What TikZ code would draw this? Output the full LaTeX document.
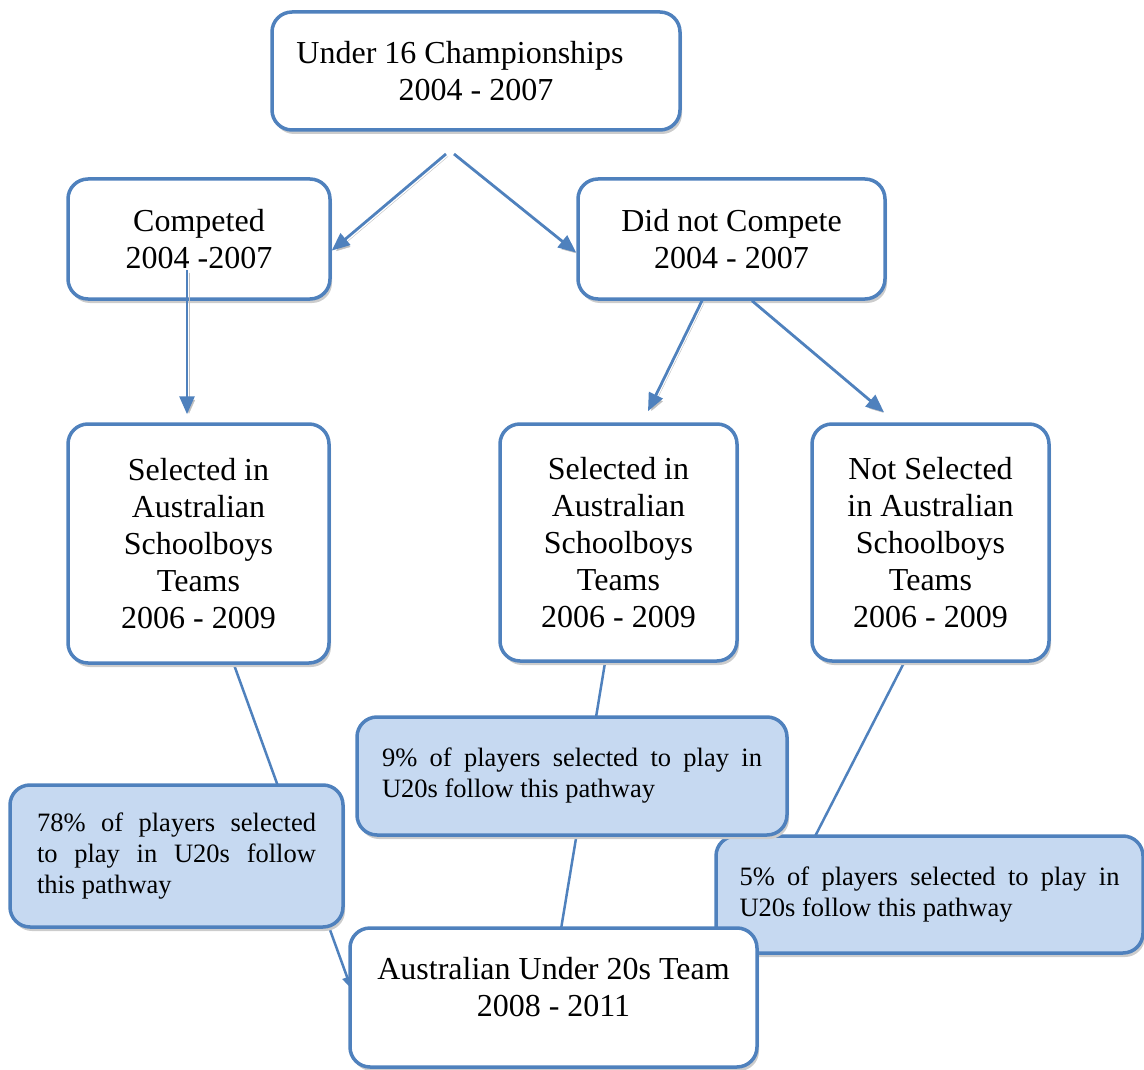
\documentclass[tikz,border=0pt]{standalone}
\usepackage{fontspec}
\setmainfont{Liberation Serif}
\usetikzlibrary{arrows.meta,shadows}
\definecolor{wordblue}{HTML}{4F81BD}
\definecolor{notefill}{HTML}{C6D9F1}
\pgfdeclarelayer{background}
\pgfsetlayers{background,main}

\begin{document}
\begin{tikzpicture}[x=1pt,y=-1pt,
    stagebox/.style={draw=wordblue, line width=3.5pt, rounded corners=20pt, fill=white,
      drop shadow={shadow xshift=2pt, shadow yshift=-4pt, fill=gray!40, opacity=1},
      align=center, inner sep=0pt, font=\fontsize{32}{37}\selectfont},
    notebox/.style={stagebox, fill=notefill, align=justify, font=\fontsize{26.5}{31}\selectfont},
    flowarrow/.style={draw=wordblue, line width=2.8pt, -{Triangle[length=18pt,width=15pt]},
      preaction={draw=gray!50, transform canvas={shift={(2pt,-2.5pt)}}}},
    pathline/.style={draw=wordblue, line width=2.5pt, -{Triangle[length=12pt,width=10pt]}}]

    \useasboundingbox (0,0) rectangle (1144,1070);

    % stages
    \node[stagebox, minimum width=408pt, minimum height=118pt] (champs) at (476,71)
      {\raisebox{-2pt}{Under 16 Championships\hspace*{32pt}}\\\raisebox{-2pt}{2004 - 2007}};
    \node[stagebox, minimum width=262pt, minimum height=120pt] (competed) at (199,239)
      {Competed\\2004 -2007};
    \node[stagebox, minimum width=307pt, minimum height=120pt] (nocompete) at (731.5,239)
      {Did not Compete\\2004 - 2007};
    \node[stagebox, minimum width=261pt, minimum height=239pt] (selLeft) at (198.5,543.5)
      {Selected in\\Australian\\Schoolboys\\Teams\\2006 - 2009};
    \node[stagebox, minimum width=237pt, minimum height=237pt] (selMid) at (618.5,542.5)
      {Selected in\\Australian\\Schoolboys\\Teams\\2006 - 2009};
    \node[stagebox, minimum width=237pt, minimum height=237pt] (notSel) at (930.5,542.5)
      {Not Selected\\in Australian\\Schoolboys\\Teams\\2006 - 2009};

    % arrows
    \coordinate (fork) at (450,154);
    \draw[flowarrow] ([xshift=-4pt]fork) -- (competed.-5);
    \draw[flowarrow] ([xshift=4pt]fork) -- (nocompete.185);
    \draw[flowarrow] ([xshift=-12pt,yshift=-31pt]competed.center) -- ([xshift=-11.5pt,yshift=8pt]selLeft.north);
    \draw[flowarrow] ([xshift=-29.5pt]nocompete.south) -- ([xshift=29.5pt,yshift=11pt]selMid.north);
    \draw[flowarrow] ([xshift=20.5pt]nocompete.south) -- ([xshift=-46.5pt,yshift=10pt]notSel.north);

    % notes
    \node[notebox, minimum width=333pt, minimum height=142pt, text width=279pt] (note78) at (176.5,856)
      {78\% of players selected\linebreak to play in U20s follow\linebreak this pathway};
    \node[notebox, minimum width=427pt, minimum height=117pt, text width=380pt] (note5) at (929.5,894.5)
      {5\% of players selected to play in\linebreak U20s follow this pathway};
    \node[notebox, minimum width=430pt, minimum height=118pt, text width=380pt] (note9) at (572,776)
      {9\% of players selected to play in\linebreak U20s follow this pathway};

    \node[stagebox, minimum width=407pt, minimum height=139pt, text depth=21pt] (u20) at (553.5,997.5)
      {Australian Under 20s Team\\2008 - 2011};

    \begin{pgfonlayer}{background}
      \draw[pathline] ([xshift=35.5pt]selLeft.south) -- ([xshift=3pt,yshift=9pt]u20.west);
      \draw[pathline] ([xshift=-13.5pt]selMid.south) -- ([xshift=5pt,yshift=-18pt]u20.north);
      \draw[pathline] ([xshift=-26.5pt]notSel.south) -- ([xshift=-14pt,yshift=24pt]u20.east);
    \end{pgfonlayer}

  \end{tikzpicture}
\end{document}
